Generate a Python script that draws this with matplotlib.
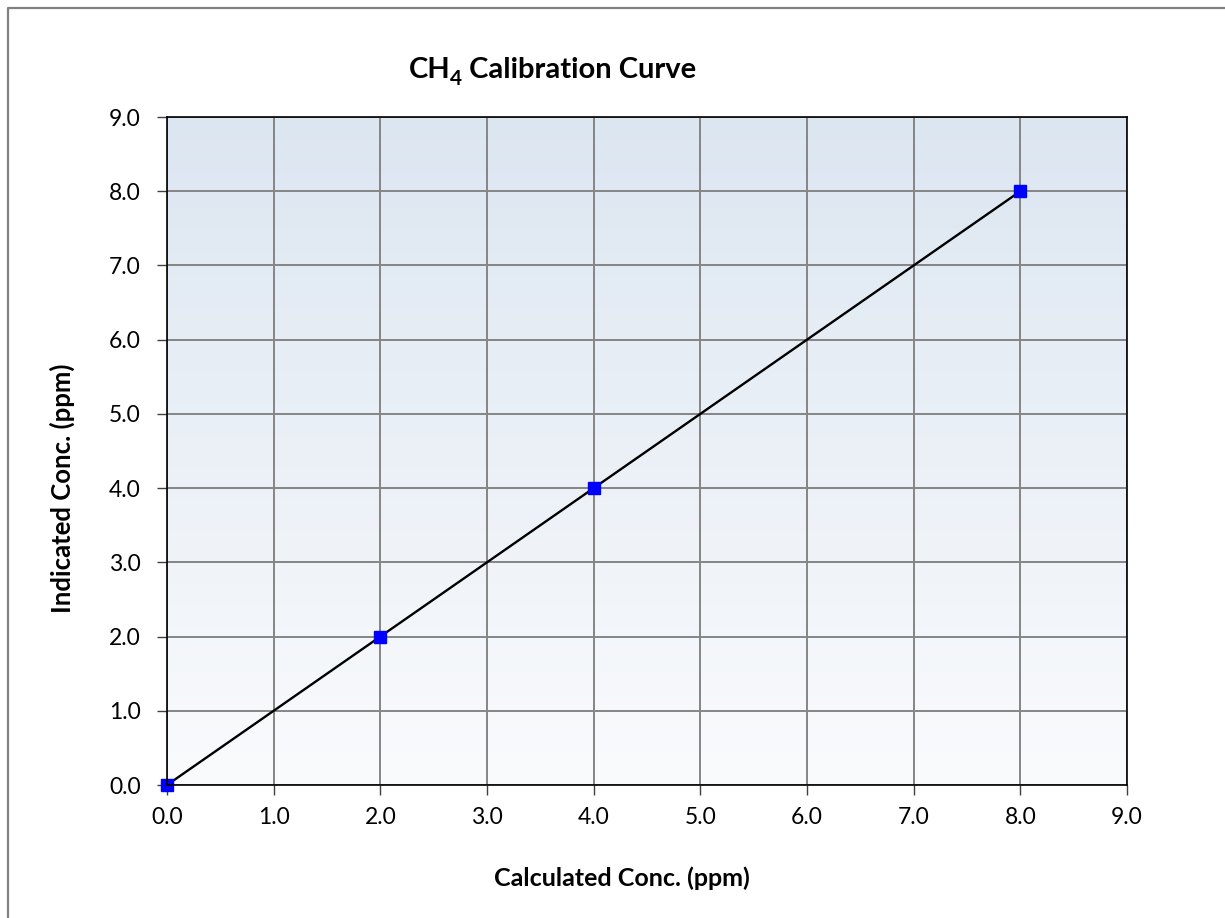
from matplotlib import pyplot as plt
from matplotlib.lines import Line2D
import numpy as np

# calibration points
calc_conc = [0.0, 2.0, 4.0, 8.0]
indicated_conc = [0.0, 2.0, 4.0, 8.0]
ticks = [0, 1, 2, 3, 4, 5, 6, 7, 8, 9]

plt.rcParams['font.family'] = ['Lato', 'DejaVu Sans']

fig = plt.figure(figsize=(12.25, 9.18), dpi=100)
ax = fig.add_axes([167 / 1225, 1 - 785 / 918, 960 / 1225, 668 / 918])

# gradient background (light blue at top -> near white at bottom)
top = np.array([220, 230, 241]) / 255
bot = np.array([250, 251, 253]) / 255
t = np.linspace(0, 1, 256)[:, None]
grad = (top * (1 - t) + bot * t)[:, None, :]
ax.imshow(grad, extent=[0, 9, 0, 9], aspect='auto', zorder=0, origin='upper')

ax.plot(calc_conc, indicated_conc, color='black', lw=1.7, zorder=3,
        marker='s', markersize=9, markerfacecolor='#0000ff',
        markeredgecolor='#0000ff', clip_on=False)

ax.set_xlim(0, 9)
ax.set_ylim(0, 9)
ax.set_xticks(ticks)
ax.set_yticks(ticks)
ax.set_xticklabels([f"{v:.1f}" for v in ticks])
ax.set_yticklabels([f"{v:.1f}" for v in ticks])
ax.tick_params(labelsize=16.5, length=7, width=1, color='#404040')
ax.tick_params(axis='x', pad=9)
ax.tick_params(axis='y', pad=12)
ax.grid(True, color='#858585', lw=1.4, zorder=1)
ax.set_axisbelow(False)
for s in ax.spines.values():
    s.set_linewidth(1.2)
    s.set_zorder(4)

fig.text(622 / 1225, 1 - 878 / 918, "Calculated Conc. (ppm)", fontsize=18,
         fontweight='bold', ha='center', va='center')
fig.text(62 / 1225, 1 - 488 / 918, "Indicated Conc. (ppm)", fontsize=18.5,
         fontweight='bold', ha='center', va='center', rotation=90)

# title with subscript 4, built from three bold pieces
t1 = fig.text(409 / 1225, 1 - 78 / 918, "CH", fontsize=21, fontweight='bold',
              ha='left', va='baseline')
t2 = ax.annotate("4", xy=(1, 0), xycoords=t1, xytext=(-0.5, -4),
                 textcoords='offset points', fontsize=15, fontweight='bold',
                 ha='left', va='bottom', annotation_clip=False)
ax.annotate(" Calibration Curve", xy=(1, 0), xycoords=(t2, t1), fontsize=21,
            fontweight='bold', ha='left', va='bottom', annotation_clip=False)

# chart border (only left/top visible in the crop)
fig.add_artist(Line2D([7.5 / 1225, 7.5 / 1225, 1], [0, 1 - 7.5 / 918, 1 - 7.5 / 918],
                      transform=fig.transFigure, color='#808080', lw=1.6))

fig.savefig("out.png", dpi=100)
